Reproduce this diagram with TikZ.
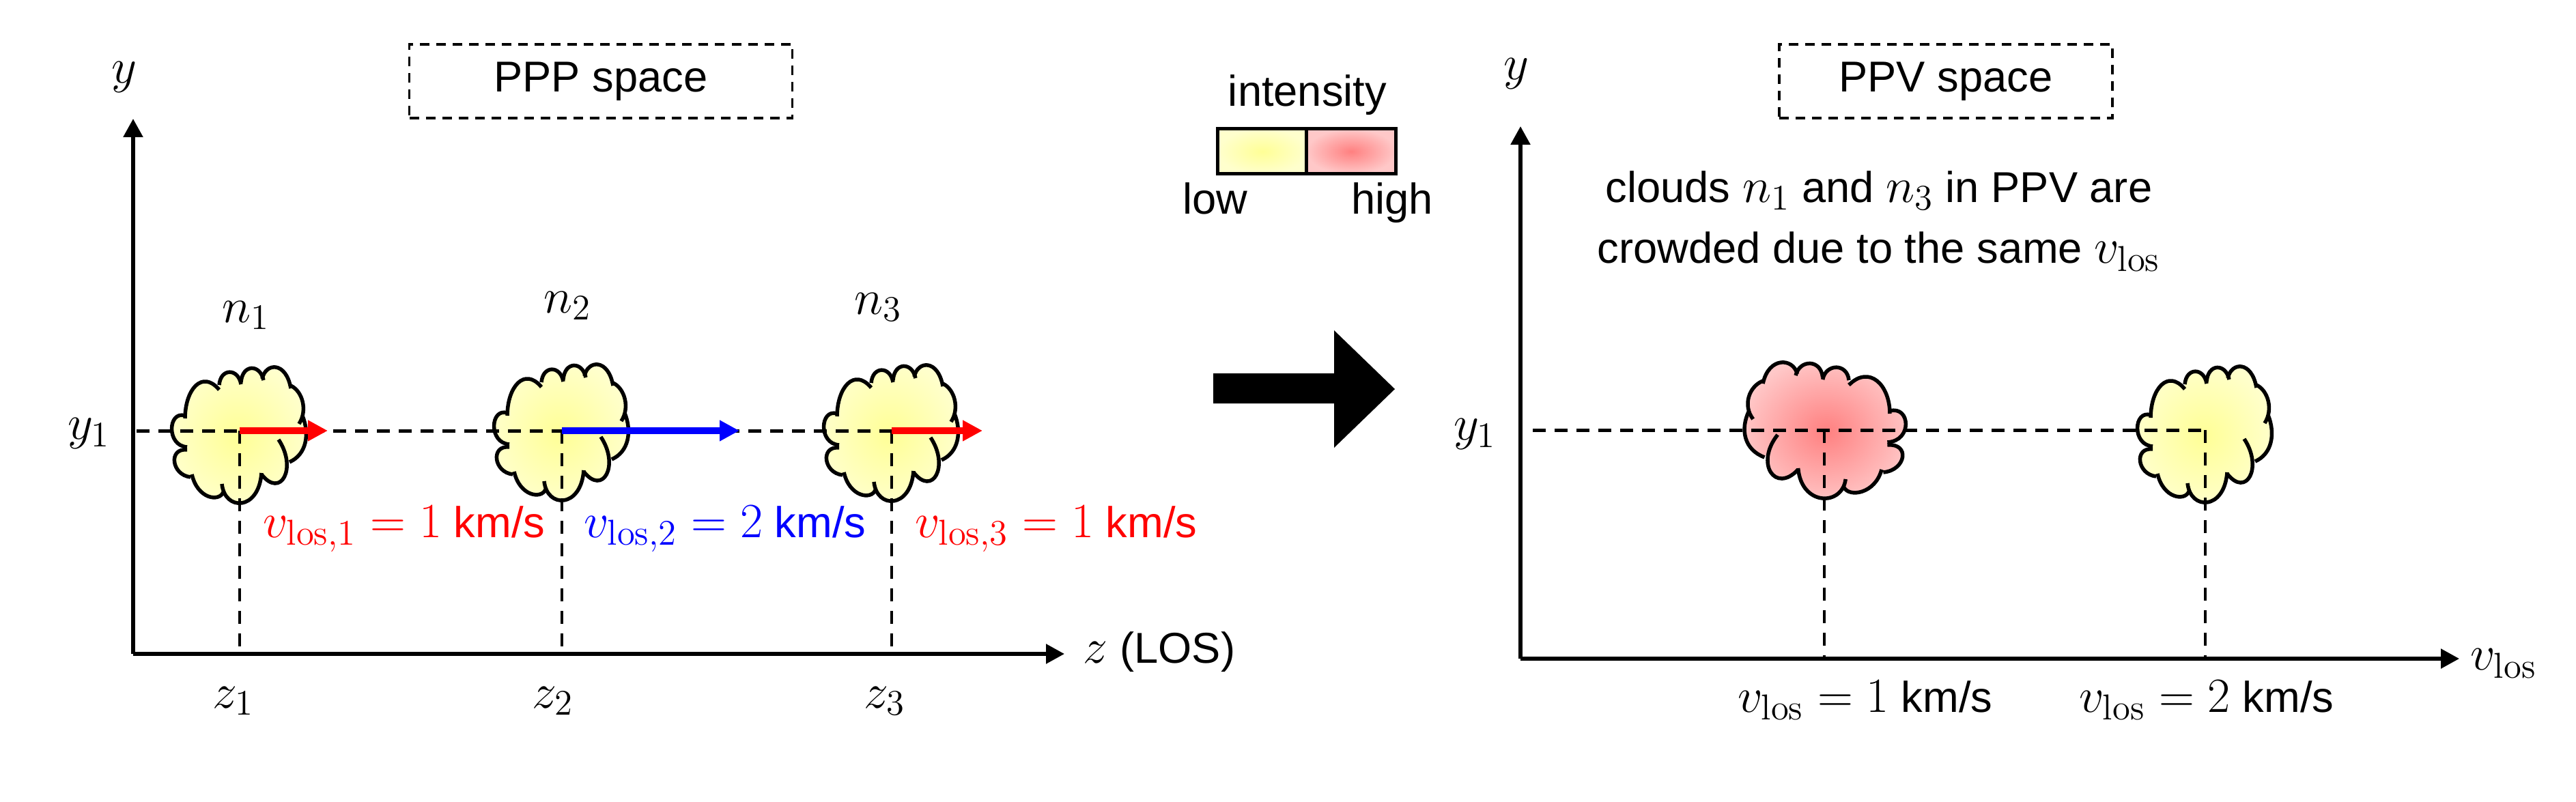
\documentclass[tikz,border=0pt]{standalone}
\usepackage{fix-cm}
\usepackage[no-math]{fontspec}
\setmainfont{Liberation Sans}
\usetikzlibrary{arrows.meta}
\DeclareMathSizes{18}{20.5}{15}{11}
\definecolor{lowmid}{RGB}{255,255,150}
\definecolor{lowedge}{RGB}{255,255,205}
\definecolor{highmid}{RGB}{255,128,128}
\definecolor{highedge}{RGB}{255,200,200}
\tikzset{
  bigtext/.style={font=\fontsize{18}{25.2}\selectfont, inner sep=0pt, align=center},
  axisline/.style={line width=.055cm, -{Triangle[length=.27cm,width=.28cm]}},
  rowline/.style={line width=.05cm, dash pattern=on .19cm off .13cm},
  dropline/.style={line width=.042cm, dash pattern=on .19cm off .14cm},
  velarrow/.style={line width=.1cm, -{Triangle[length=.29cm,width=.29cm]}},
  framebox/.style={bigtext, draw, dash pattern=on .14cm off .10cm, line width=.033cm, minimum height=1.08cm},
  scalebox/.style={draw, line width=.05cm, minimum height=.66cm, minimum width=1.31cm, inner sep=0pt}
}
% one lobe per entry: start/control/control/end, in hundredths of a cm round the centre
\newcommand{\cloudlobes}{-80/18/-80/60/-55/90/-30/60,
  -30/67/-28/92/-2/92/2/68,
  2/71/4/98/30/98/35/74,
  33/76/38/100/68/102/75/62,
  75/66/92/58/100/30/87/10,
  92/22/103/-5/98/-35/73/-46,
  57/-13/85/-55/60/-100/32/-64,
  32/-62/28/-118/-22/-118/-26/-78,
  -24/-90/-30/-105/-62/-100/-70/-64,
  -72/-68/-100/-65/-105/-25/-77/-28,
  -77/-24/-108/-22/-105/30/-80/22}
% #1 centre, #2 horizontal stretch, #3 middle colour, #4 edge colour
\newcommand{\drawcloud}[4]{
  \begin{scope}[shift={#1}, x=.01cm, y=.01cm, xscale=#2]
    \shade[inner color=#3, outer color=#4] (-80,18)
      \foreach \ax/\ay/\bx/\by/\cx/\cy/\dx/\dy in \cloudlobes
        { -- (\ax,\ay) .. controls (\bx,\by) and (\cx,\cy) .. (\dx,\dy) } -- cycle;
    \foreach \ax/\ay/\bx/\by/\cx/\cy/\dx/\dy in \cloudlobes
      \draw[line width=.055cm] (\ax,\ay) .. controls (\bx,\by) and (\cx,\cy) .. (\dx,\dy);
  \end{scope}
}

\begin{document}
\begin{tikzpicture}
\useasboundingbox (0,0) rectangle (37.73,11.74);

% clouds go first, the dashed guides run over them
\drawcloud{(3.51,5.43)}{1}{lowmid}{lowedge}
\drawcloud{(8.23,5.47)}{1}{lowmid}{lowedge}
\drawcloud{(13.06,5.46)}{1}{lowmid}{lowedge}
\drawcloud{(26.72,5.50)}{-1.2}{highmid}{highedge}
\drawcloud{(32.30,5.44)}{1}{lowmid}{lowedge}

% left panel
\coordinate (lorigin) at (1.95,2.16);
\coordinate (lytip) at (1.95,10.00);
\coordinate (lztip) at (15.59,2.16);
\coordinate (lrow) at (2.00,5.43);
\coordinate (c1) at (3.51,5.43);
\coordinate (c2) at (8.23,5.43);
\coordinate (c3) at (13.06,5.43);
\coordinate (a1) at (3.51,2.16);
\coordinate (a2) at (8.23,2.16);
\coordinate (a3) at (13.06,2.16);
\coordinate (h1) at (4.80,5.43);
\coordinate (h2) at (10.83,5.43);
\coordinate (h3) at (14.39,5.43);
\draw[rowline] (lrow) -- (c3);
\foreach \i in {1,2,3}
  \draw[dropline] (c\i) -- (a\i);
\draw[axisline] (lorigin) -- (lytip);
\draw[axisline] (lorigin) -- (lztip);
\draw[velarrow, red] (c1) -- (h1);
\draw[velarrow, blue] (c2) -- (h2);
\draw[velarrow, red] (c3) -- (h3);

\node[framebox, minimum width=5.61cm] (pppbox) at (8.80,10.55) {PPP space};
\node[bigtext] (lylabel) at (1.82,10.61) {$y$};
\node[bigtext] (lrowlabel) at (1.30,5.39) {$y_1$};
\node[bigtext] (zaxis) at (16.98,2.19) {$z$ (LOS)};
\node[bigtext] (z1) at (3.42,1.47) {$z_1$};
\node[bigtext] (z2) at (8.10,1.47) {$z_2$};
\node[bigtext] (z3) at (12.96,1.47) {$z_3$};
\node[bigtext] (n1) at (3.60,7.12) {$n_1$};
\node[bigtext] (n2) at (8.31,7.26) {$n_2$};
\node[bigtext] (n3) at (12.86,7.24) {$n_3$};
\node[bigtext, red, anchor=base] (v1) at (5.92,3.87) {$v_{\mathrm{los},1}=1$ km/s};
\node[bigtext, blue, anchor=base] (v2) at (10.62,3.87) {$v_{\mathrm{los},2}=2$ km/s};
\node[bigtext, red, anchor=base] (v3) at (15.47,3.87) {$v_{\mathrm{los},3}=1$ km/s};

% intensity scale and the block arrow
\node[bigtext, anchor=base] (intensity) at (19.15,10.18) {intensity};
\node[scalebox, inner color=lowmid, outer color=lowedge] (lowbox) at (18.49,9.52) {};
\node[scalebox, inner color=highmid, outer color=highedge] (highbox) at (19.79,9.52) {};
\node[bigtext, anchor=base] (low) at (17.80,8.60) {low};
\node[bigtext, anchor=base] (high) at (20.39,8.60) {high};
\fill (17.77,6.27) -- (19.54,6.27) -- (19.54,6.90) -- (20.43,6.04) -- (19.54,5.18) -- (19.54,5.83) -- (17.77,5.83) -- cycle;

% right panel
\coordinate (rorigin) at (22.27,2.09);
\coordinate (rytip) at (22.27,9.89);
\coordinate (rvtip) at (36.02,2.09);
\coordinate (rrow) at (22.45,5.44);
\coordinate (c4) at (26.72,5.44);
\coordinate (c5) at (32.30,5.44);
\coordinate (a4) at (26.72,2.09);
\coordinate (a5) at (32.30,2.09);
\draw[rowline] (rrow) -- (c5);
\foreach \i in {4,5}
  \draw[dropline] (c\i) -- (a\i);
\draw[axisline] (rorigin) -- (rytip);
\draw[axisline] (rorigin) -- (rvtip);

\node[framebox, minimum width=4.88cm] (ppvbox) at (28.50,10.55) {PPV space};
\node[bigtext] (rylabel) at (22.21,10.66) {$y$};
\node[bigtext] (rrowlabel) at (21.60,5.38) {$y_1$};
\node[bigtext] (vaxis) at (36.67,2.02) {$v_{\mathrm{los}}$};
\node[bigtext] (note) at (27.52,8.50) {clouds $n_1$ and $n_3$ in PPV are\\crowded due to the same $v_{\mathrm{los}}$};
\node[bigtext, anchor=base] (vone) at (27.32,1.31) {$v_{\mathrm{los}}=1$ km/s};
\node[bigtext, anchor=base] (vtwo) at (32.32,1.31) {$v_{\mathrm{los}}=2$ km/s};
\end{tikzpicture}
\end{document}
